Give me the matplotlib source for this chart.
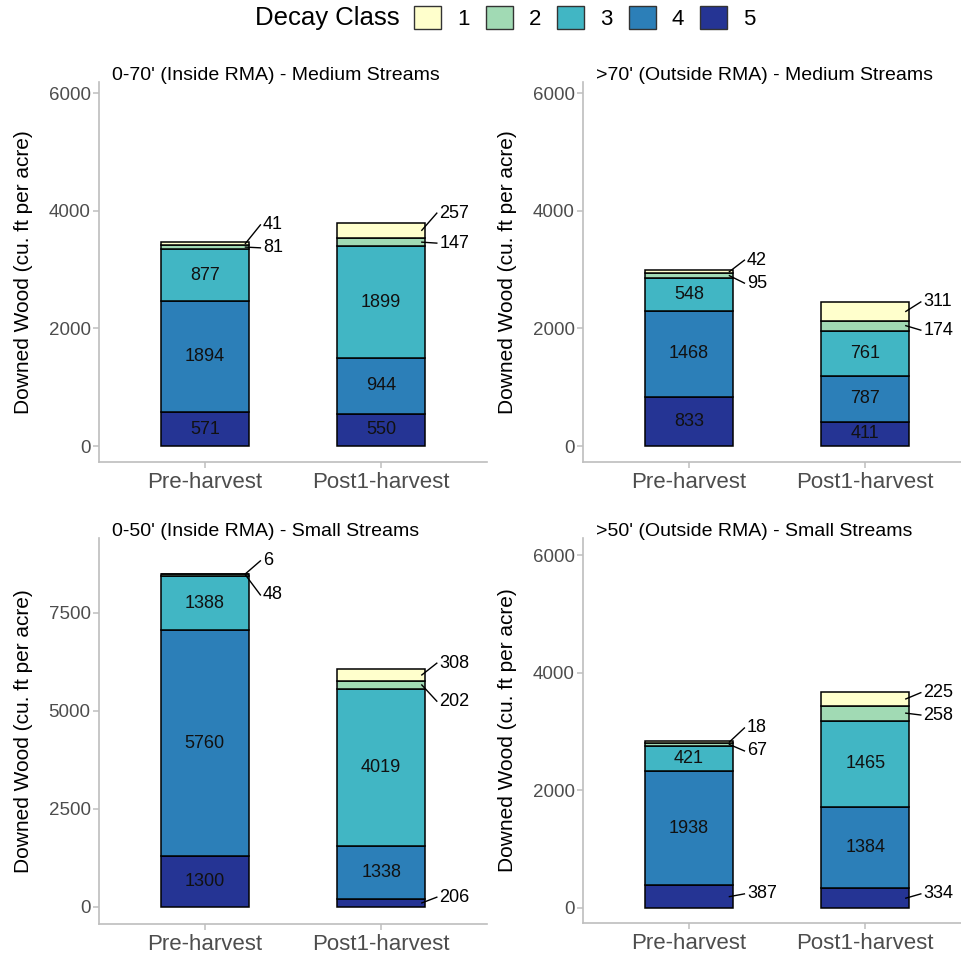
import matplotlib
matplotlib.use("Agg")
import matplotlib.pyplot as plt
from matplotlib.patches import Patch

plt.rcParams["font.family"] = ["Liberation Sans", "DejaVu Sans"]

# ------------------------------------------------------------
# Data (cu. ft per acre), values per decay class for [Pre, Post1]
# ------------------------------------------------------------
categories = ["Pre-harvest", "Post1-harvest"]
decay_classes = ["1", "2", "3", "4", "5"]
colors = {"1": "#FFFFCC", "2": "#A1DAB4", "3": "#41B6C4", "4": "#2C7FB8", "5": "#253494"}

titles = [
    "0-70' (Inside RMA) - Medium Streams",
    ">70' (Outside RMA) - Medium Streams",
    "0-50' (Inside RMA) - Small Streams",
    ">50' (Outside RMA) - Small Streams",
]

medium_inside = {"1": [41, 257], "2": [81, 147], "3": [877, 1899], "4": [1894, 944], "5": [571, 550]}
medium_outside = {"1": [42, 311], "2": [95, 174], "3": [548, 761], "4": [1468, 787], "5": [833, 411]}
small_inside = {"1": [6, 308], "2": [48, 202], "3": [1388, 4019], "4": [5760, 1338], "5": [1300, 206]}
small_outside = {"1": [18, 225], "2": [67, 258], "3": [421, 1465], "4": [1938, 1384], "5": [387, 334]}

panels = [medium_inside, medium_outside, small_inside, small_outside]

# ------------------------------------------------------------
# Layout: axes boxes in pixels (left, top, right, bottom), y limits,
# and where the repelled labels sit (bar index, class) -> label y
# ------------------------------------------------------------
W, H = 961, 957
boxes = [(99, 82, 487, 462), (583, 82, 961, 462), (99, 538, 487, 924), (583, 538, 961, 923)]
ylims = [(-272, 6190), (-272, 6190), (-434, 9413), (-255, 6289)]
yticks = [[0, 2000, 4000, 6000], [0, 2000, 4000, 6000], [0, 2500, 5000, 7500], [0, 2000, 4000, 6000]]
px_per_unit_x = 176.4

outside = [
    {(0, "1"): 3760, (0, "2"): 3370, (1, "1"): 3960, (1, "2"): 3450},
    {(0, "1"): 3160, (0, "2"): 2770, (1, "1"): 2450, (1, "2"): 1970},
    {(0, "1"): 8830, (0, "2"): 7960, (1, "1"): 6220, (1, "2"): 5250, (1, "5"): 250},
    {(0, "1"): 3060, (0, "2"): 2670, (0, "5"): 240, (1, "1"): 3660, (1, "2"): 3280, (1, "5"): 240},
]

fig = plt.figure(figsize=(W / 100, H / 100), dpi=100)

bar_w = 0.5
label_dx = 0.33
grey = "#BEBEBE"

for i, data in enumerate(panels):
    l, t, r, b = boxes[i]
    ax = fig.add_axes([l / W, 1 - b / H, (r - l) / W, (b - t) / H])
    x = [1, 2]
    bottoms = [0, 0]
    for cls in reversed(decay_classes):  # class 5 at the bottom
        vals = data[cls]
        ax.bar(x, vals, bottom=bottoms, width=bar_w, color=colors[cls],
               edgecolor="black", linewidth=1.1, zorder=2)
        for j in range(2):
            mid = bottoms[j] + vals[j] / 2
            key = (j, cls)
            if key in outside[i]:
                ly = outside[i][key]
                ax.plot([x[j] + 0.23, x[j] + label_dx - 0.015], [mid, ly],
                        color="black", linewidth=1.0, zorder=3, clip_on=False)
                ax.text(x[j] + label_dx, ly, str(vals[j]), ha="left", va="center",
                        fontsize=13, color="black", clip_on=False)
            else:
                ax.text(x[j], mid, str(vals[j]), ha="center", va="center",
                        fontsize=13, color="#111111")
        bottoms = [bottoms[j] + vals[j] for j in range(2)]

    ax.set_xlim(0.4, 0.4 + (r - l) / px_per_unit_x)
    ax.set_ylim(*ylims[i])
    ax.set_xticks(x)
    ax.set_xticklabels(categories)
    ax.set_yticks(yticks[i])
    ax.tick_params(axis="x", labelsize=16, colors=grey, labelcolor="#4D4D4D",
                   length=4, width=1.1, pad=3)
    ax.tick_params(axis="y", labelsize=13.5, colors=grey, labelcolor="#4D4D4D",
                   length=4, width=1.1, pad=2)
    for side in ["top", "right"]:
        ax.spines[side].set_visible(False)
    for side in ["left", "bottom"]:
        ax.spines[side].set_color(grey)
        ax.spines[side].set_linewidth(1.2)
    ax.set_ylabel("Downed Wood (cu. ft per acre)", fontsize=15, color="black")
    ax.yaxis.set_label_coords(-66 / (r - l), 0.5)
    ax.text(13 / (r - l), 1.005, titles[i], transform=ax.transAxes,
            ha="left", va="baseline", fontsize=14, color="black")

# legend on top
fig.text(255 / W, 1 - 18 / H, "Decay Class", ha="left", va="center", fontsize=18.5)
handles = [Patch(facecolor=colors[c], edgecolor="#333333", linewidth=1.0, label=c)
           for c in decay_classes]
fig.legend(handles=handles, loc="center left", bbox_to_anchor=(414 / W, 1 - 18 / H),
           ncol=5, frameon=False, fontsize=16, handlelength=1.22, handleheight=1.22,
           handletextpad=0.72, columnspacing=0.72, borderpad=0, borderaxespad=0)

fig.savefig("out.png", dpi=100)
